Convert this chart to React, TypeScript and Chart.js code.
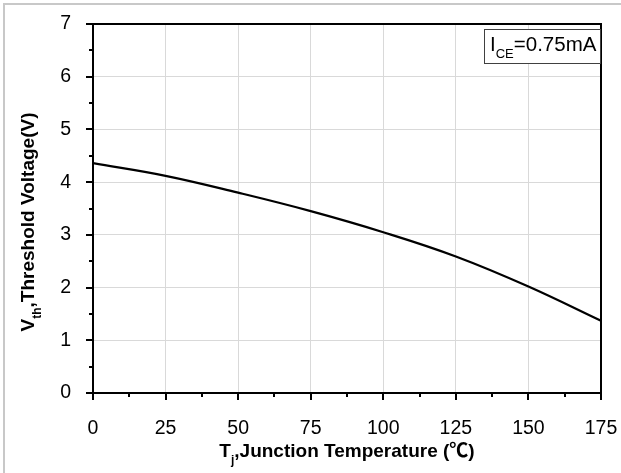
import React, { useEffect, useRef } from "react";
import { Chart, registerables } from "chart.js";
Chart.register(...registerables);

const temperatures = [0, 25, 50, 75, 100, 125, 150, 175];
const thresholdVoltage = [4.36, 4.12, 3.8, 3.45, 3.05, 2.59, 2.02, 1.37];
const xTickValues = [0, 25, 50, 75, 100, 125, 150, 175];
const yTickValues = [0, 1, 2, 3, 4, 5, 6, 7];
const xMinorValues = [12.5, 37.5, 62.5, 87.5, 112.5, 137.5, 162.5];
const yMinorValues = [0.5, 1.5, 2.5, 3.5, 4.5, 5.5, 6.5];

const FONT = '"Liberation Sans", Arial, "Noto Sans CJK SC", sans-serif';

type Seg = { t: string; sub?: boolean };
const xTitle: Seg[] = [{ t: "T" }, { t: "j", sub: true }, { t: ",Junction Temperature (℃)" }];
const yTitle: Seg[] = [{ t: "V" }, { t: "th", sub: true }, { t: ",Threshold Voltage(V)" }];
const legendText: Seg[] = [{ t: "I" }, { t: "CE", sub: true }, { t: "=0.75mA" }];

function segWidth(ctx: CanvasRenderingContext2D, segs: Seg[], size: number, weight: string) {
  let w = 0;
  for (const s of segs) {
    ctx.font = `${weight} ${s.sub ? Math.round(size * 0.62) : size}px ${FONT}`;
    w += ctx.measureText(s.t).width;
  }
  return w;
}
function drawSegs(ctx: CanvasRenderingContext2D, segs: Seg[], x: number, y: number, size: number, weight: string) {
  let cx = x;
  ctx.textBaseline = "alphabetic";
  ctx.textAlign = "left";
  for (const s of segs) {
    const sz = s.sub ? Math.round(size * 0.62) : size;
    ctx.font = `${weight} ${sz}px ${FONT}`;
    ctx.fillText(s.t, cx, s.sub ? y + size * 0.35 : y);
    cx += ctx.measureText(s.t).width;
  }
}

const decorPlugin = {
  id: "decor",
  afterDraw(chart: any) {
    const ctx: CanvasRenderingContext2D = chart.ctx;
    const { left, right, top, bottom } = chart.chartArea;
    const xs = chart.scales.x;
    const ys = chart.scales.y;
    ctx.save();
    // outer light border
    ctx.strokeStyle = "#c8c8c8";
    ctx.lineWidth = 2;
    ctx.beginPath();
    ctx.moveTo(4, chart.height);
    ctx.lineTo(4, 4);
    ctx.lineTo(chart.width, 4);
    ctx.stroke();
    // plot frame
    ctx.strokeStyle = "#000";
    ctx.lineWidth = 2;
    ctx.strokeRect(left, top, right - left, bottom - top);
    // ticks
    ctx.beginPath();
    for (const v of xTickValues) {
      const px = Math.round(xs.getPixelForValue(v));
      ctx.moveTo(px, bottom);
      ctx.lineTo(px, bottom + 7);
    }
    for (const v of xMinorValues) {
      const px = Math.round(xs.getPixelForValue(v));
      ctx.moveTo(px, bottom);
      ctx.lineTo(px, bottom + 4);
    }
    for (const v of yTickValues) {
      const py = Math.round(ys.getPixelForValue(v));
      ctx.moveTo(left - 7, py);
      ctx.lineTo(left, py);
    }
    for (const v of yMinorValues) {
      const py = Math.round(ys.getPixelForValue(v));
      ctx.moveTo(left - 4, py);
      ctx.lineTo(left, py);
    }
    ctx.stroke();
    // axis titles
    ctx.fillStyle = "#000";
    const xw = segWidth(ctx, xTitle, 19, "bold");
    drawSegs(ctx, xTitle, (left + right) / 2 - xw / 2, 457, 19, "bold");
    const yw = segWidth(ctx, yTitle, 19, "bold");
    ctx.save();
    ctx.translate(34, 222);
    ctx.rotate(-Math.PI / 2);
    drawSegs(ctx, yTitle, -yw / 2, 0, 19, "bold");
    ctx.restore();
    // legend box
    ctx.fillStyle = "#fff";
    ctx.fillRect(484, 29, 116, 34);
    ctx.strokeStyle = "#404040";
    ctx.lineWidth = 1;
    ctx.strokeRect(484.5, 29.5, 116, 34);
    ctx.fillStyle = "#000";
    drawSegs(ctx, legendText, 490, 51, 20.5, "normal");
    ctx.restore();
  },
};

export default function App() {
  const ref = useRef<HTMLCanvasElement | null>(null);
  useEffect(() => {
    document.body.style.margin = "0";
    const canvas = ref.current!;
    const chart = new Chart(canvas, {
      type: "line",
      data: {
        datasets: [
          {
            data: temperatures.map((t, i) => ({ x: t, y: thresholdVoltage[i] })),
            borderColor: "#000",
            borderWidth: 2.2,
            pointRadius: 0,
            tension: 0.4,
            fill: false,
          },
        ],
      },
      options: {
        responsive: false,
        animation: false,
        layout: { padding: { top: 24, right: 20, left: 0, bottom: 0 } },
        plugins: { legend: { display: false }, tooltip: { enabled: false } },
        scales: {
          x: {
            type: "linear",
            min: 0,
            max: 175,
            afterBuildTicks: (s: any) => {
              s.ticks = xTickValues.map((v) => ({ value: v }));
            },
            afterFit: (s: any) => {
              s.height = 80;
              s.paddingLeft = 0;
              s.paddingRight = 0;
            },
            grid: { color: "#d9d9d9", lineWidth: 1, drawTicks: false },
            border: { display: false },
            ticks: { padding: 24, color: "#000", font: { family: FONT, size: 19.5 }, maxRotation: 0, autoSkip: false },
          },
          y: {
            type: "linear",
            min: 0,
            max: 7,
            afterBuildTicks: (s: any) => {
              s.ticks = yTickValues.map((v) => ({ value: v }));
            },
            afterFit: (s: any) => {
              s.width = 93;
              s.paddingTop = 0;
              s.paddingBottom = 0;
            },
            grid: { color: "#d9d9d9", lineWidth: 1, drawTicks: false },
            border: { display: false },
            ticks: { padding: 22, color: "#000", font: { family: FONT, size: 19.5 } },
          },
        },
      },
      plugins: [decorPlugin],
    } as any);
    return () => chart.destroy();
  }, []);
  return <canvas ref={ref} width={621} height={473} style={{ display: "block" }} />;
}
